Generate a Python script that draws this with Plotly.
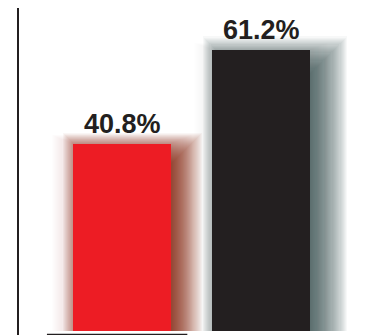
import plotly.graph_objects as go

# Data
categories = ["Group A", "Group B"]
values = [40.8, 61.2]
labels = ["40.8%", "61.2%"]
bar_colors = ["#ed1c24", "#231f20"]

# Shadow colours for each bar
shadow_rgb = [(125, 30, 10), (60, 66, 76)]
# drop shadow: (peak alpha, shift right px, shift down px, blur radius px)
drop_style = [(0.82, 10, 10, 21), (0.80, 14, 10, 24)]
# faint halo all round: (peak alpha, radius px)
halo_style = [(0.14, 22), (0.08, 18)]

W, H = 368, 335
x_range = [-0.8777, 1.7698]
y_range = [-0.85, 72.04]
px_per_x = W / (x_range[1] - x_range[0])
px_per_y = H / (y_range[1] - y_range[0])
bar_width = 0.705

fig = go.Figure()


def add_layer(cat, val, rgb, alpha, left_px, right_px, top_px):
    """One translucent copy of a bar, grown by the given pixel amounts."""
    w = bar_width + (left_px + right_px) / px_per_x
    if w <= 0:
        return
    fig.add_trace(go.Bar(
        x=[cat], y=[val + top_px / px_per_y],
        width=[w], offset=[-bar_width / 2 - left_px / px_per_x],
        marker=dict(color=f"rgba({rgb[0]},{rgb[1]},{rgb[2]},{alpha:.4f})",
                    line=dict(width=0)),
        hoverinfo="skip", showlegend=False,
    ))


def add_drop_shadow(cat, val, rgb, style, n=42):
    peak, sx, sy, blur = style
    a = 1 - (1 - peak) ** (1 / n)
    for k in range(n):
        e = blur * (2 * (k + 0.5) / n - 1)  # from -blur to +blur
        add_layer(cat, val, rgb, a, e - sx, e + sx, e - sy)


def add_halo(cat, val, rgb, style, n=20):
    peak, radius = style
    a = 1 - (1 - peak) ** (1 / n)
    for k in range(n):
        e = radius * (k + 0.5) / n
        add_layer(cat, val, rgb, a, e, e, e * 0.4)


for i, (cat, val) in enumerate(zip(categories, values)):
    add_halo(cat, val, shadow_rgb[i], halo_style[i])
    add_drop_shadow(cat, val, shadow_rgb[i], drop_style[i])

fig.add_trace(go.Bar(
    x=categories, y=values, width=[bar_width] * len(values),
    marker=dict(color=bar_colors, line=dict(width=0)),
    showlegend=False,
))

for cat, val, txt in zip(categories, values, labels):
    fig.add_annotation(
        x=cat, y=val, text=txt, showarrow=False,
        xanchor="center", yanchor="bottom", yshift=3,
        font=dict(family="Liberation Sans, Arial, sans-serif", size=27,
                  color="#231f20", weight="bold"),
    )

# vertical axis rule on the left
fig.add_shape(type="line", xref="paper", yref="paper",
              x0=18 / W, x1=18 / W, y0=0, y1=1 - 8 / H,
              line=dict(color="#231f20", width=2))
# baseline under the first bar
fig.add_shape(type="line", xref="x", yref="paper",
              x0=-0.54, x1=0.47, y0=0.6 / H, y1=0.6 / H,
              line=dict(color="#231f20", width=1.5), layer="below")

fig.update_layout(
    width=W, height=H,
    margin=dict(l=0, r=0, t=0, b=0),
    paper_bgcolor="white", plot_bgcolor="white",
    barmode="overlay", bargap=0,
    xaxis=dict(range=x_range, visible=False, fixedrange=True),
    yaxis=dict(range=y_range, visible=False, fixedrange=True),
)

fig.write_html("out.html")
